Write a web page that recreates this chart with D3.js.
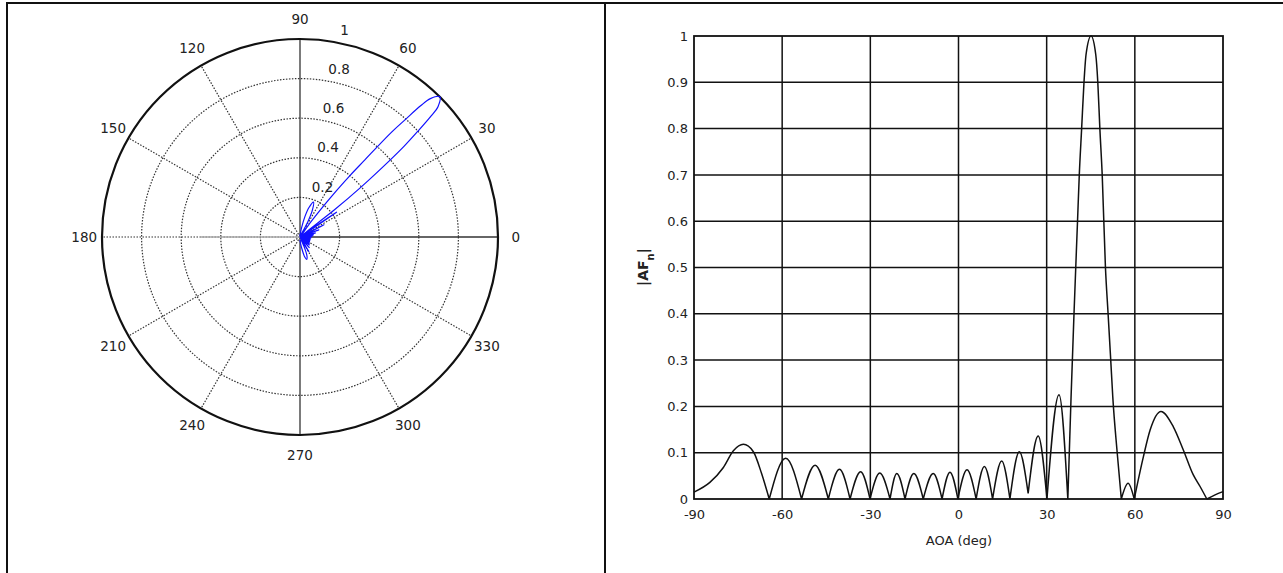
<!DOCTYPE html>
<html>
<head>
<meta charset="utf-8">
<script src="https://cdn.jsdelivr.net/npm/d3@7"></script>
<style>
  body { margin: 0; background: #fff; }
  text { font-family: "DejaVu Sans", sans-serif; fill: #222; }
</style>
</head>
<body>
<div id="chart"></div>
<script>
// array factor (angle of arrival in deg, |AF_n|)
const aoa = [-90, -84.6, -80, -76.6, -73.2, -69.8, -67, -64.4,
  -58.8, -53.4, -48.8, -44.3, -40.5, -36.9, -33.3, -30.1, -26.8, -23.3,
  -21.0, -18.2, -15.2, -12.0, -8.6, -5.6, -2.9, -0.2, 2.9, 6.0, 8.8, 11.6,
  14.7, 17.5, 20.7, 23.7, 27.1, 30.1, 34.2, 37.2,
  38.3, 39.3, 40.5, 41.1, 41.9, 42.7, 43.4, 45.1, 46.7, 47.4, 48.1, 48.9, 50.0, 50.9, 51.8, 52.5, 54.0, 55.4,
  57.7, 59.8, 62.9, 65.2, 68.9, 73.1, 76.5, 79.9, 82.2, 84.5, 87.3, 90];
const af = [0.015, 0.036, 0.068, 0.104, 0.118, 0.102, 0.055, 0,
  0.088, 0, 0.073, 0, 0.064, 0, 0.059, 0, 0.056, 0,
  0.055, 0, 0.055, 0, 0.055, 0, 0.058, 0, 0.063, 0, 0.070, 0,
  0.082, 0, 0.102, 0.012, 0.136, 0, 0.225, 0,
  0.22, 0.40, 0.60, 0.70, 0.80, 0.90, 0.96, 1.0, 0.96, 0.90, 0.80, 0.70, 0.50, 0.40, 0.30, 0.22, 0.10, 0,
  0.034, 0, 0.091, 0.149, 0.189, 0.156, 0.106, 0.052, 0.027, 0, 0.009, 0.016];

const ringValues = [0.2, 0.4, 0.6, 0.8];
const ringLabels = ["0.2", "0.4", "0.6", "0.8", "1"];
const spokeAngles = [0, 30, 60, 90, 120, 150, 180, 210, 240, 270, 300, 330];
const xTicks = [-90, -60, -30, 0, 30, 60, 90];
const yTicks = [0, 0.1, 0.2, 0.3, 0.4, 0.5, 0.6, 0.7, 0.8, 0.9, 1];

const data = aoa.map((a, i) => ({ a: a, v: af[i] }));

// split at the nulls so every lobe gets its own smooth hump
const lobes = [];
let cur = [data[0]];
for (let i = 1; i < data.length; i++) {
  cur.push(data[i]);
  if (i < data.length - 1 && data[i].v <= data[i - 1].v && data[i].v <= data[i + 1].v) {
    lobes.push(cur);
    cur = [data[i]];
  }
}
lobes.push(cur);

const W = 1283, H = 573;
const svg = d3.select("#chart").append("svg")
  .attr("width", W)
  .attr("height", H);

svg.append("rect").attr("width", W).attr("height", H).attr("fill", "#fff");

// table frame
svg.append("line").attr("x1", 7).attr("x2", W).attr("y1", 3).attr("y2", 3)
  .attr("stroke", "#111").attr("stroke-width", 2);
svg.append("line").attr("x1", 7).attr("x2", 7).attr("y1", 2).attr("y2", H)
  .attr("stroke", "#111").attr("stroke-width", 2);
svg.append("line").attr("x1", 605).attr("x2", 605).attr("y1", 2).attr("y2", H)
  .attr("stroke", "#111").attr("stroke-width", 2);

// ---------- polar plot ----------
const cx = 300, cy = 237, R = 198;
const r = d3.scaleLinear().domain([0, 1]).range([0, R]);
const polar = svg.append("g").attr("transform", "translate(" + cx + "," + cy + ")");

polar.selectAll(".ring")
  .data(ringValues)
  .enter()
  .append("circle")
  .attr("r", d => r(d))
  .attr("fill", "none")
  .attr("stroke", "#333")
  .attr("stroke-width", 1.2)
  .attr("stroke-dasharray", "1.5,1.5");

polar.selectAll(".spoke")
  .data(spokeAngles)
  .enter()
  .append("line")
  .attr("x1", 0).attr("y1", 0)
  .attr("x2", d => r(1) * Math.cos(d * Math.PI / 180))
  .attr("y2", d => -r(1) * Math.sin(d * Math.PI / 180))
  .attr("stroke", "#333")
  .attr("stroke-width", d => (d % 90 === 0 && d !== 180) ? 1.3 : 1.2)
  .attr("stroke-dasharray", d => (d % 90 === 0 && d !== 180) ? null : "1.5,1.5");

// faint grey line along 180
polar.append("line").attr("x1", -100).attr("x2", 0).attr("y1", 0).attr("y2", 0)
  .attr("stroke", "#aaa").attr("stroke-width", 1.5);

polar.append("circle").attr("r", r(1))
  .attr("fill", "none").attr("stroke", "#111").attr("stroke-width", 2.2);

polar.selectAll(".alab")
  .data(spokeAngles)
  .enter()
  .append("text")
  .attr("x", d => r(1.09) * Math.cos(d * Math.PI / 180))
  .attr("y", d => -r(1.1) * Math.sin(d * Math.PI / 180))
  .attr("dy", "0.35em")
  .attr("text-anchor", "middle")
  .attr("font-size", 13.5)
  .text(d => d);

polar.selectAll(".rlab")
  .data(ringLabels)
  .enter()
  .append("text")
  .attr("x", (d, i) => r((i + 1) * 0.2) * Math.cos(82 * Math.PI / 180) + 17)
  .attr("y", (d, i) => -r((i + 1) * 0.2) * Math.sin(82 * Math.PI / 180) - 11)
  .attr("dy", "0.35em")
  .attr("text-anchor", "middle")
  .attr("font-size", 13.5)
  .text(d => d);

const radial = d3.lineRadial()
  .angle(d => (90 - d.a) * Math.PI / 180)
  .radius(d => r(d.v))
  .curve(d3.curveCatmullRom);

polar.append("path")
  .attr("d", radial(data))
  .attr("fill", "none")
  .attr("stroke", "#1010ff")
  .attr("stroke-width", 1.2);

// ---------- cartesian plot ----------
const x = d3.scaleLinear().domain([-90, 90]).range([694, 1223]);
const y = d3.scaleLinear().domain([0, 1]).range([499, 36]);

svg.append("g")
  .selectAll("line")
  .data(xTicks.slice(1, -1))
  .enter()
  .append("line")
  .attr("x1", d => x(d)).attr("x2", d => x(d))
  .attr("y1", y(0)).attr("y2", y(1))
  .attr("stroke", "#111").attr("stroke-width", 1.5);

svg.append("g")
  .selectAll("line")
  .data(yTicks.slice(1, -1))
  .enter()
  .append("line")
  .attr("x1", x(-90)).attr("x2", x(90))
  .attr("y1", d => y(d)).attr("y2", d => y(d))
  .attr("stroke", "#111").attr("stroke-width", 1.5);

svg.append("rect")
  .attr("x", x(-90)).attr("y", y(1))
  .attr("width", x(90) - x(-90)).attr("height", y(0) - y(1))
  .attr("fill", "none").attr("stroke", "#111").attr("stroke-width", 1.8);

svg.append("g")
  .attr("transform", "translate(0," + y(0) + ")")
  .call(d3.axisBottom(x).tickValues(xTicks).tickFormat(d => String(d)).tickSize(0).tickPadding(11))
  .call(g => g.select(".domain").remove())
  .selectAll("text")
  .attr("font-size", 13)
  .attr("font-family", "DejaVu Sans, sans-serif")
  .attr("fill", "#222");

svg.append("g")
  .attr("transform", "translate(" + x(-90) + ",0)")
  .call(d3.axisLeft(y).tickValues(yTicks).tickFormat(d => String(d)).tickSize(0).tickPadding(6))
  .call(g => g.select(".domain").remove())
  .selectAll("text")
  .attr("font-size", 13)
  .attr("font-family", "DejaVu Sans, sans-serif")
  .attr("fill", "#222");

const lineGen = d3.line()
  .x(d => x(d.a))
  .y(d => y(d.v))
  .curve(d3.curveMonotoneX);

svg.append("path")
  .attr("d", lobes.map(l => lineGen(l)).join(""))
  .attr("fill", "none")
  .attr("stroke", "#111")
  .attr("stroke-width", 1.5);

svg.append("text")
  .attr("x", 959).attr("y", 545)
  .attr("text-anchor", "middle")
  .attr("font-size", 13)
  .text("AOA (deg)");

const ylab = svg.append("text")
  .attr("transform", "translate(648,267) rotate(-90)")
  .attr("text-anchor", "middle")
  .attr("font-size", 14)
  .attr("font-weight", "bold");
ylab.append("tspan").text("|AF");
ylab.append("tspan").attr("baseline-shift", "sub").attr("font-size", 10).text("n");
ylab.append("tspan").text("|");
</script>
</body>
</html>
